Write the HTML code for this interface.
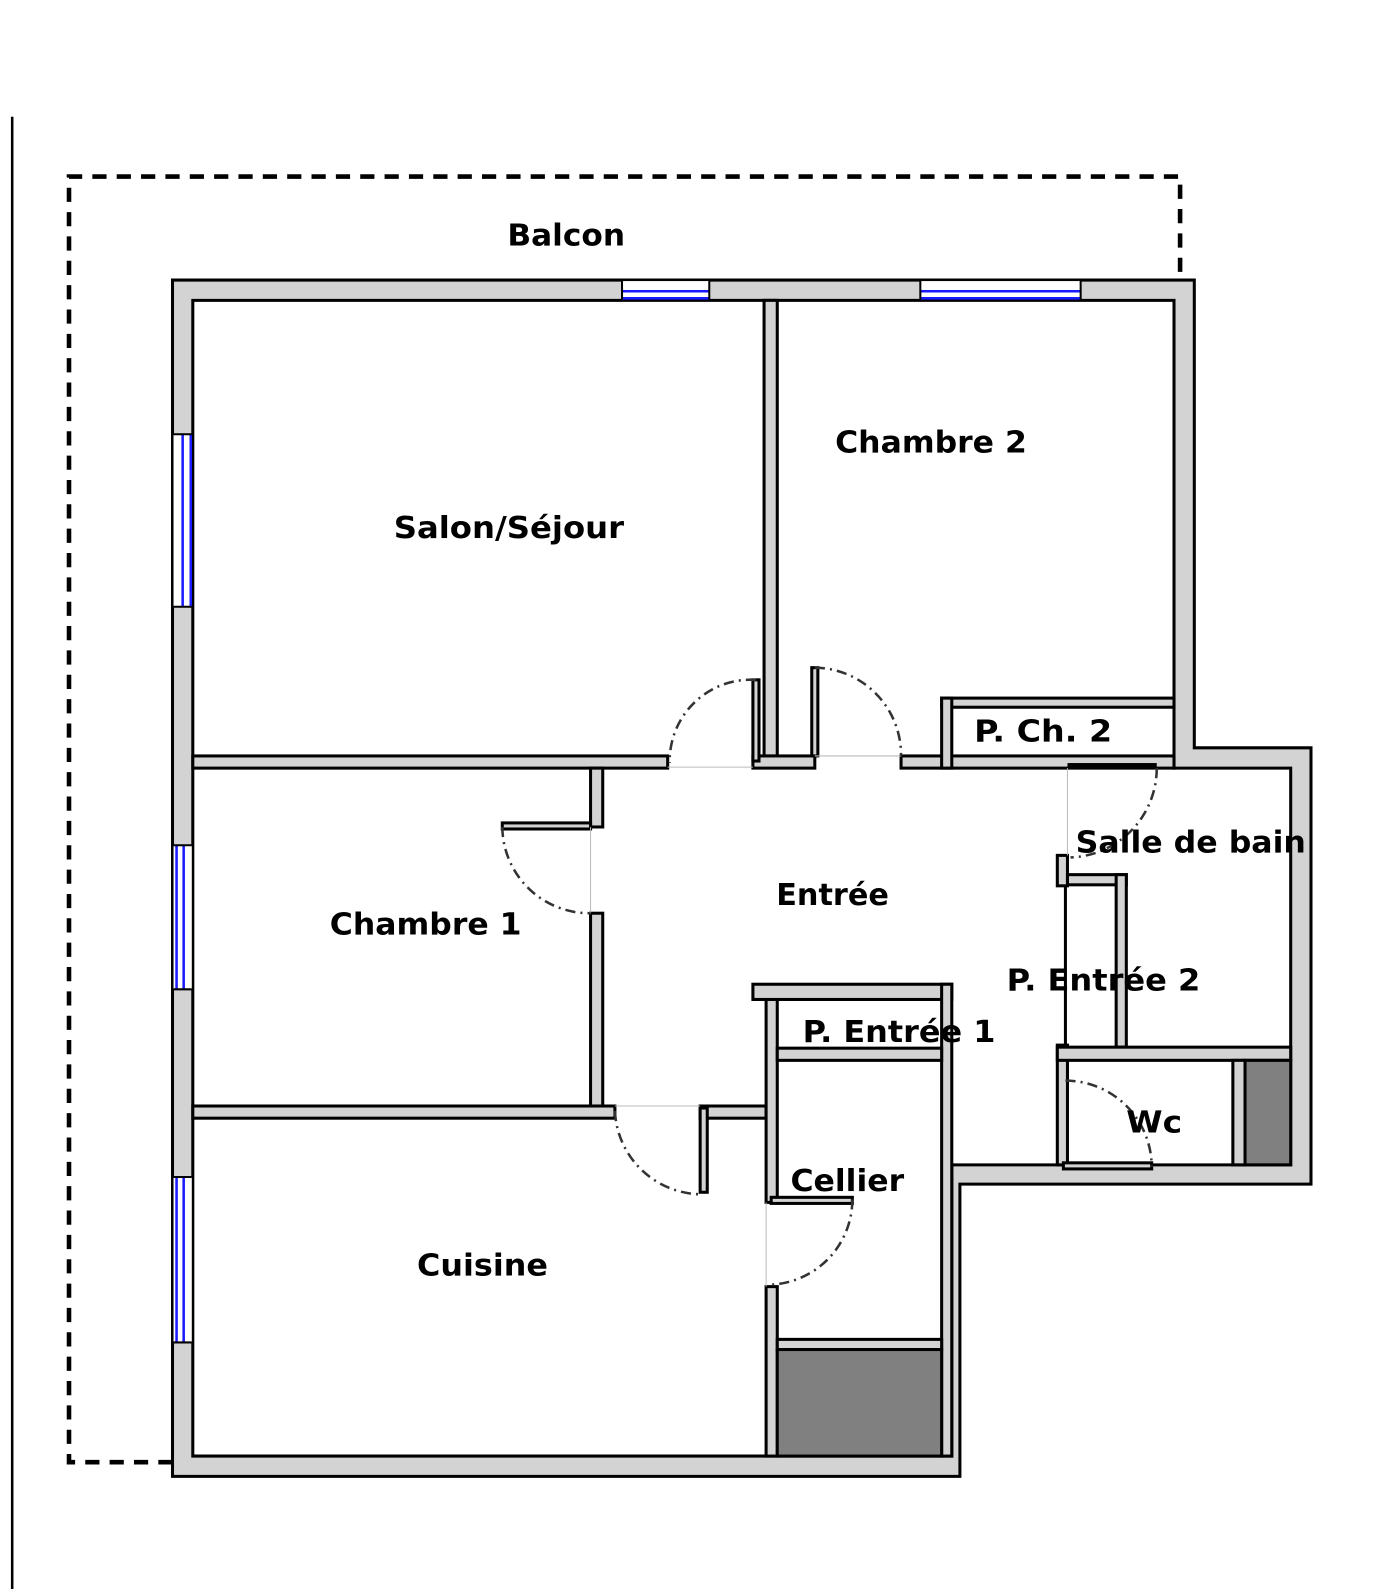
<!DOCTYPE html>
<html><head><meta charset="utf-8"><style>
html,body{margin:0;padding:0;background:#fff;}
svg{display:block;}
text{font-family:"DejaVu Sans","Liberation Sans",sans-serif;font-weight:bold;font-size:30px;fill:#000;}
</style></head><body>
<svg width="1380" height="1589" viewBox="0 0 1360 1566" xmlns="http://www.w3.org/2000/svg">
<rect width="1360" height="1566" fill="#fff"/>
<line x1="12" y1="115" x2="12" y2="1566" stroke="#000" stroke-width="2.5"/>
<path d="M170,1441 H68 V174 H1163 V290" fill="none" stroke="#000" stroke-width="4.5" stroke-dasharray="14,10"/>
<polygon points="170,276 1177,276 1177,737 1292,737 1292,1167 946,1167 946,1455 170,1455" fill="#d3d3d3" stroke="#000" stroke-width="3"/>
<polygon points="190,296 1157,296 1157,757 1272,757 1272,1148 938,1148 938,1435 190,1435" fill="#fff" stroke="#000" stroke-width="3"/>
<g fill="#fff">
<rect x="613" y="277" width="86" height="18"/><rect x="907" y="277" width="158" height="18"/>
<rect x="171" y="428" width="18" height="170"/><rect x="171" y="833" width="18" height="142"/><rect x="171" y="1160" width="18" height="163"/>
</g>
<g stroke="#1a1aff" stroke-width="2.5">
<line x1="613" y1="287" x2="699" y2="287"/><line x1="613" y1="294" x2="699" y2="294"/>
<line x1="907" y1="287" x2="1065" y2="287"/><line x1="907" y1="294" x2="1065" y2="294"/>
<line x1="180" y1="428" x2="180" y2="598"/><line x1="188" y1="428" x2="188" y2="598"/>
<line x1="174" y1="833" x2="174" y2="975"/><line x1="181" y1="833" x2="181" y2="975"/>
<line x1="174" y1="1160" x2="174" y2="1323"/><line x1="181" y1="1160" x2="181" y2="1323"/>
</g>
<g stroke="#000" stroke-width="2">
<line x1="613" y1="277" x2="613" y2="295"/><line x1="699" y1="277" x2="699" y2="295"/>
<line x1="907" y1="277" x2="907" y2="295"/><line x1="1065" y1="277" x2="1065" y2="295"/>
<line x1="171" y1="428" x2="189" y2="428"/><line x1="171" y1="598" x2="189" y2="598"/>
<line x1="171" y1="833" x2="189" y2="833"/><line x1="171" y1="975" x2="189" y2="975"/>
<line x1="171" y1="1160" x2="189" y2="1160"/><line x1="171" y1="1323" x2="189" y2="1323"/>
</g>
<g fill="#d3d3d3" stroke="#000" stroke-width="3">
<rect x="753" y="296" width="13" height="449"/>
<rect x="190" y="745" width="468" height="12"/>
<rect x="742" y="745" width="61" height="12"/>
<rect x="888" y="745" width="269" height="12"/>
<rect x="928" y="688" width="229" height="9"/>
<rect x="928" y="688" width="10" height="69"/>
<rect x="582" y="757" width="12" height="58"/>
<rect x="582" y="900" width="12" height="190"/>
<rect x="190" y="1090" width="416" height="12"/>
<rect x="690" y="1090" width="65" height="12"/>
<rect x="755" y="975" width="11" height="210"/>
<rect x="755" y="1268" width="11" height="167"/>
<rect x="742" y="970" width="196" height="15"/>
<rect x="928" y="970" width="10" height="465"/>
<rect x="766" y="1033" width="162" height="12"/>
<rect x="766" y="1320" width="162" height="10"/>
<rect x="1042" y="843" width="10" height="30"/>
<rect x="1042" y="1030" width="10" height="118"/>
<rect x="1052" y="862" width="58" height="10"/>
<rect x="1100" y="862" width="10" height="170"/>
<rect x="1042" y="1032" width="230" height="13"/>
<rect x="1215" y="1045" width="12" height="103"/>
<rect x="742" y="670" width="6" height="80"/>
<rect x="800" y="658" width="6" height="87"/>
<rect x="495" y="811" width="87" height="6"/>
<rect x="690" y="1092" width="7" height="83"/>
<rect x="760" y="1180" width="80" height="6"/>
<rect x="1048" y="1146" width="87" height="6"/>
</g>
<rect x="766" y="1330" width="162" height="105" fill="#808080" stroke="#000" stroke-width="3"/>
<rect x="1227" y="1045" width="45" height="103" fill="#808080" stroke="#000" stroke-width="3"/>
<rect x="1052" y="752" width="88" height="6" fill="#000"/>
<line x1="1050" y1="873" x2="1050" y2="1030" stroke="#000" stroke-width="3"/>
<g stroke="#bbb" stroke-width="1">
<line x1="658" y1="756" x2="742" y2="756"/><line x1="803" y1="745" x2="888" y2="745"/>
<line x1="582" y1="815" x2="582" y2="900"/><line x1="606" y1="1090" x2="690" y2="1090"/>
<line x1="755" y1="1185" x2="755" y2="1268"/><line x1="1052" y1="757" x2="1052" y2="843"/>
</g>
<g fill="none" stroke="#333" stroke-width="2.5" stroke-dasharray="10,5,2,5">
<path d="M745,670 A80,80 0 0 0 660,752"/>
<path d="M803,658 A86,86 0 0 1 888,745"/>
<path d="M495,815 A86,86 0 0 0 582,900"/>
<path d="M606,1095 A86,86 0 0 0 692,1177"/>
<path d="M840,1182 A84,84 0 0 1 760,1266"/>
<path d="M1140,757 A88,88 0 0 1 1055,845"/>
<path d="M1050,1065 A85,85 0 0 1 1135,1150"/>
</g>
<g>
<text x="500" y="242" textLength="116" lengthAdjust="spacingAndGlyphs">Balcon</text>
<text x="388" y="530" textLength="227" lengthAdjust="spacingAndGlyphs">Salon/Séjour</text>
<text x="823" y="446" textLength="189" lengthAdjust="spacingAndGlyphs">Chambre 2</text>
<text x="960" y="731" textLength="136" lengthAdjust="spacingAndGlyphs">P. Ch. 2</text>
<text x="1060" y="840" textLength="227" lengthAdjust="spacingAndGlyphs">Salle de bain</text>
<text x="765" y="892" textLength="111" lengthAdjust="spacingAndGlyphs">Entrée</text>
<text x="325" y="921" textLength="189" lengthAdjust="spacingAndGlyphs">Chambre 1</text>
<text x="992" y="976" textLength="191" lengthAdjust="spacingAndGlyphs">P. Entrée 2</text>
<text x="791" y="1027" textLength="190" lengthAdjust="spacingAndGlyphs">P. Entrée 1</text>
<text x="1110" y="1116" textLength="55" lengthAdjust="spacingAndGlyphs">Wc</text>
<text x="779" y="1174" textLength="112" lengthAdjust="spacingAndGlyphs">Cellier</text>
<text x="411" y="1257" textLength="129" lengthAdjust="spacingAndGlyphs">Cuisine</text>
</g>
</svg>
</body></html>
